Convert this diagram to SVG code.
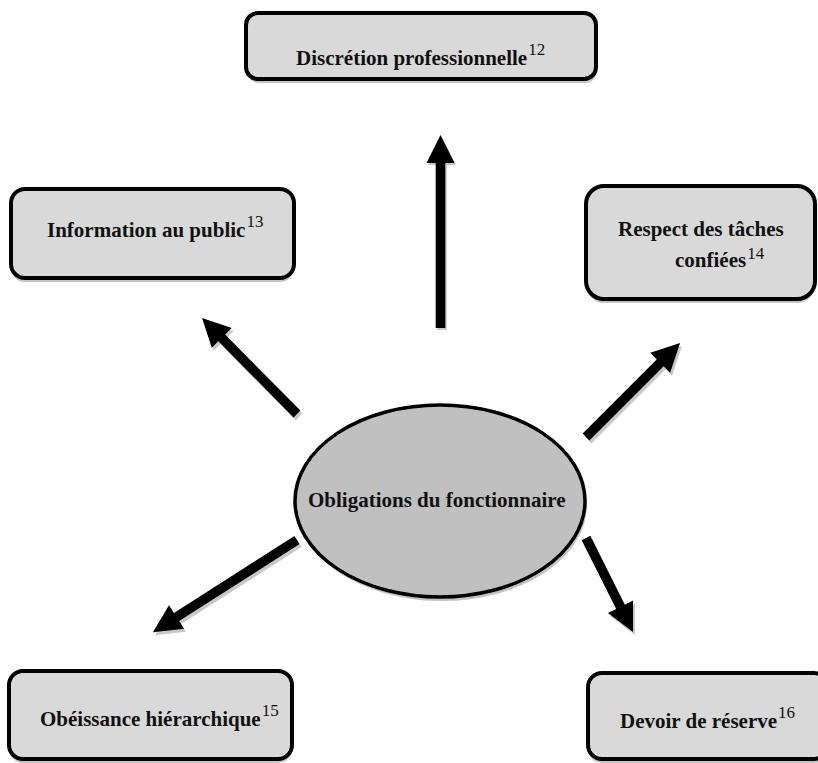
<svg xmlns="http://www.w3.org/2000/svg" xmlns:xlink="http://www.w3.org/1999/xlink" width="818" height="763" viewBox="0 0 818 763">
<style>
.box{fill:#d9d9d9;stroke:#000;stroke-width:4}
.shadow{fill:#c4c4c4;stroke:none}
.ell{fill:#c0c0c0;stroke:#000;stroke-width:3.5}
.t{font-family:"Liberation Serif","Times New Roman",serif;font-weight:bold;font-size:21px;fill:#111}
.sup{font-weight:normal;font-size:17px}
.arr{fill:#000}
.ashadow{fill:#c8c8c8}
</style>
<rect width="818" height="763" fill="#fff"/>
<g id="connectors">
  <g transform="translate(442,330) rotate(-90)"><polygon class="ashadow" points="0,-4.8 165,-4.8 165,-14 193,0 165,14 165,4.8 0,4.8"/></g>
  <g transform="translate(440.5,328) rotate(-90)"><polygon class="arr" points="0,-4.8 165,-4.8 165,-14 193,0 165,14 165,4.8 0,4.8"/></g>

  <g transform="translate(299,417) rotate(-134.7)"><polygon class="ashadow" points="0,-4.8 107,-4.8 107,-14 135,0 107,14 107,4.8 0,4.8"/></g>
  <g transform="translate(297,414) rotate(-134.7)"><polygon class="arr" points="0,-4.8 107,-4.8 107,-14 135,0 107,14 107,4.8 0,4.8"/></g>

  <g transform="translate(588,440) rotate(-45)"><polygon class="ashadow" points="0,-4.8 105,-4.8 105,-14 133,0 105,14 105,4.8 0,4.8"/></g>
  <g transform="translate(586,437) rotate(-45)"><polygon class="arr" points="0,-4.8 105,-4.8 105,-14 133,0 105,14 105,4.8 0,4.8"/></g>

  <g transform="translate(299,543) rotate(147.4)"><polygon class="ashadow" points="0,-4.8 143,-4.8 143,-14 171,0 143,14 143,4.8 0,4.8"/></g>
  <g transform="translate(297,540) rotate(147.4)"><polygon class="arr" points="0,-4.8 143,-4.8 143,-14 171,0 143,14 143,4.8 0,4.8"/></g>

  <g transform="translate(588,541) rotate(63.4)"><polygon class="ashadow" points="0,-4.8 77,-4.8 77,-14 105,0 77,14 77,4.8 0,4.8"/></g>
  <g transform="translate(586,538) rotate(63.4)"><polygon class="arr" points="0,-4.8 77,-4.8 77,-14 105,0 77,14 77,4.8 0,4.8"/></g>
</g>
<g id="node-discretion">
  <rect class="shadow" x="247" y="17" width="350" height="66" rx="12"/>
  <rect class="box" x="246" y="13" width="350" height="66" rx="12"/>
  <text class="t" x="296" y="65">Discrétion professionnelle<tspan class="sup" dx="1" dy="-10">12</tspan></text>
</g>
<g id="node-information">
  <rect class="shadow" x="11" y="193" width="283" height="89" rx="14"/>
  <rect class="box" x="11" y="189" width="283" height="89" rx="14"/>
  <text class="t" x="47" y="237">Information au public<tspan class="sup" dx="1" dy="-10">13</tspan></text>
</g>
<g id="node-respect">
  <rect class="shadow" x="586" y="190" width="229" height="113" rx="18"/>
  <rect class="box" x="586" y="186" width="229" height="113" rx="18"/>
  <text class="t" x="618" y="236">Respect des tâches</text>
  <text class="t" x="675" y="267">confiées<tspan class="sup" dx="1" dy="-8">14</tspan></text>
</g>
<g id="node-obligations">
  <ellipse class="shadow" cx="442" cy="505" rx="145" ry="96"/>
  <ellipse class="ell" cx="440" cy="501" rx="145" ry="96"/>
  <text class="t" x="308" y="507">Obligations du fonctionnaire</text>
</g>
<g id="node-obeissance">
  <rect class="shadow" x="9" y="675" width="283" height="88" rx="14"/>
  <rect class="box" x="9" y="671" width="283" height="88" rx="14"/>
  <text class="t" x="40" y="726">Obéissance hiérarchique<tspan class="sup" dx="1" dy="-10">15</tspan></text>
</g>
<g id="node-devoir">
  <rect class="shadow" x="588" y="677" width="240" height="86" rx="14"/>
  <rect class="box" x="588" y="673" width="240" height="86" rx="14"/>
  <text class="t" x="620" y="728">Devoir de réserve<tspan class="sup" dx="1" dy="-10">16</tspan></text>
</g>
</svg>
